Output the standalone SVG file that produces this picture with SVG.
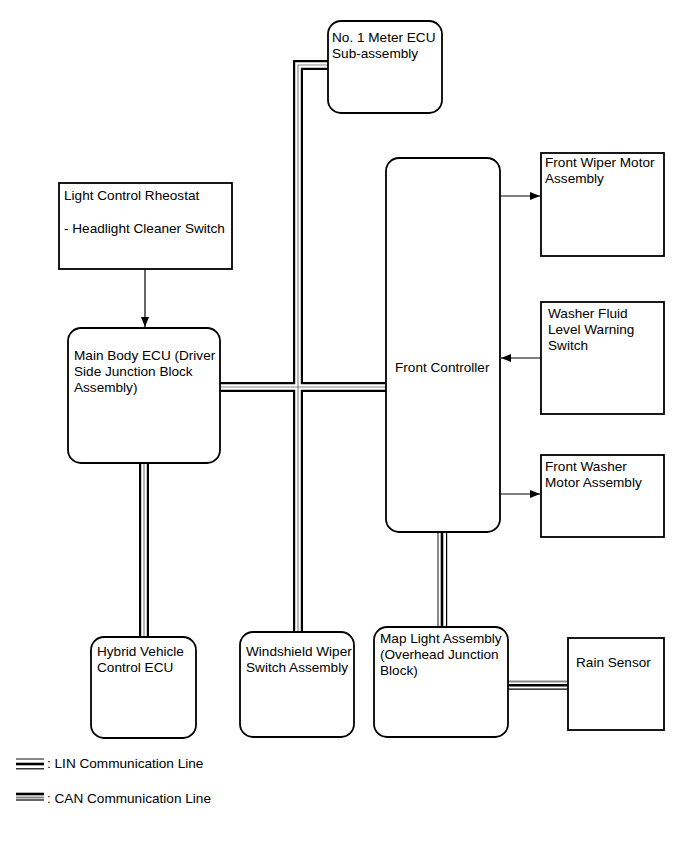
<svg xmlns="http://www.w3.org/2000/svg" width="690" height="854" viewBox="0 0 690 854">
<defs>
<style>
.box{fill:#fff;stroke:#000;stroke-width:1.8}
text{font-family:"Liberation Sans",Arial,sans-serif;font-size:13.6px;fill:#000}
.arr{fill:none;stroke:#000;stroke-width:1.2;marker-end:url(#ah)}
.b1{fill:none;stroke:#000;stroke-width:10}
.b2{fill:none;stroke:#fff;stroke-width:5.6}
.b3{fill:none;stroke:#888;stroke-width:1.2}
.lg{fill:none;stroke:#888;stroke-width:2}
.lb{fill:none;stroke:#000;stroke-width:2.6}
.lt{fill:none;stroke:#000;stroke-width:1.2}
</style>
<marker id="ah" viewBox="0 0 10 8" refX="10" refY="4" markerWidth="10" markerHeight="8" markerUnits="userSpaceOnUse" orient="auto">
<path d="M0,0 L10,4 L0,8 z" fill="#000"/>
</marker>
</defs>
<g id="connectors">
<g id="can-bus">
<path class="b1" d="M328,65 H298 V632 M220,387 H386 M144,463 V637"/>
<path class="b2" d="M328,65 H298 V632 M220,387 H386 M144,463 V637"/>
<path class="b3" d="M328,65 H298 V632 M220,387 H386 M144,463 V637"/>
</g>
<g id="lin-bus">
<path class="lg" d="M438,532 V627 M508,681.5 H568"/>
<path class="lb" d="M442,532 V627 M508,685.3 H568"/>
<path class="lt" d="M446.6,532 V627 M508,689.2 H568"/>
</g>
<path class="arr" d="M145,269 V327"/>
<path class="arr" d="M500,196 H540"/>
<path class="arr" d="M541,358 H501"/>
<path class="arr" d="M500,494 H540"/>
</g>
<g id="meter-ecu"><rect class="box" x="328" y="21" width="114" height="92" rx="13"/><text x="332" y="42">No. 1 Meter ECU</text><text x="332" y="58">Sub-assembly</text></g>
<g id="light-control"><rect class="box" x="59" y="183" width="173" height="86"/><text x="64" y="200">Light Control Rheostat</text><text x="64" y="233">- Headlight Cleaner Switch</text></g>
<g id="main-body-ecu"><rect class="box" x="68" y="328" width="152" height="135" rx="13"/><text x="74" y="360">Main Body ECU (Driver</text><text x="74" y="376">Side Junction Block</text><text x="74" y="392">Assembly)</text></g>
<g id="front-controller"><rect class="box" x="386" y="158" width="114" height="374" rx="13"/><text x="395" y="372">Front Controller</text></g>
<g id="front-wiper"><rect class="box" x="541" y="153" width="123" height="103"/><text x="545" y="167">Front Wiper Motor</text><text x="545" y="183">Assembly</text></g>
<g id="washer-fluid"><rect class="box" x="541" y="302" width="123" height="112"/><text x="548" y="318">Washer Fluid</text><text x="548" y="334">Level Warning</text><text x="548" y="350">Switch</text></g>
<g id="front-washer"><rect class="box" x="541" y="455" width="123" height="82"/><text x="545" y="471">Front Washer</text><text x="545" y="487">Motor Assembly</text></g>
<g id="hybrid-ecu"><rect class="box" x="91" y="637" width="105" height="101" rx="13"/><text x="97" y="656">Hybrid Vehicle</text><text x="97" y="672">Control ECU</text></g>
<g id="windshield-switch"><rect class="box" x="240" y="632" width="114" height="105" rx="13"/><text x="246" y="656">Windshield Wiper</text><text x="246" y="672">Switch Assembly</text></g>
<g id="map-light"><rect class="box" x="374" y="627" width="134" height="110" rx="13"/><text x="380" y="643">Map Light Assembly</text><text x="380" y="659">(Overhead Junction</text><text x="380" y="675">Block)</text></g>
<g id="rain-sensor"><rect class="box" x="568" y="638" width="96" height="92"/><text x="576" y="667">Rain Sensor</text></g>
<g id="legend">
<path class="lg" d="M16,759 H44"/><path class="lb" d="M16,764 H44"/><path class="lt" d="M16,768.8 H44"/>
<text x="47" y="768">: LIN Communication Line</text>
<path class="lb" d="M16,794 H44"/><path class="lg" d="M16,797.5 H44"/><path class="lt" d="M16,800 H44"/>
<text x="47" y="803">: CAN Communication Line</text>
</g>
</svg>
